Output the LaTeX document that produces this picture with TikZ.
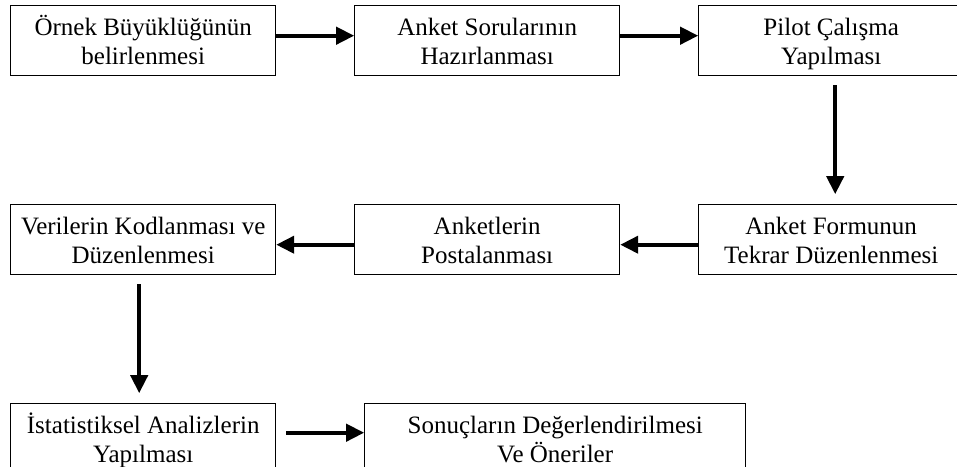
\documentclass[tikz,border=0pt]{standalone}
\usepackage{fontspec}
\setmainfont{Liberation Serif}
\usetikzlibrary{
  arrows.meta,
  chains,
  matrix,
  positioning,
  scopes
}

\begin{document}
\begin{tikzpicture}[
      phase/.style={
         rectangle,
         minimum width=265pt,
         minimum height=70pt,
         inner sep=2pt,
         line width=1pt,
         draw=black,
         align=center,
         font=\fontsize{25}{29}\selectfont,
         text height=52pt,
         text depth=5pt,
         %text height=1.5ex,
         %text depth=.25ex
      },
      tip/.style={
         line width=4pt,
         -{Triangle[length=18pt,width=17pt]}
      },
      shifted/.style={transform canvas={shift={#1}}},
      gap tip/.style={tip,shorten <=9pt,shorten >=10pt},
      left gap tip/.style={tip,shorten <=10pt},
    ]
    \useasboundingbox (0pt,0pt) rectangle (957pt,-466pt);
    \matrix[column sep=78pt, row sep=128pt, inner sep=0pt, anchor=north west] at (10pt,-5pt) {
\node (n11) [phase] {Örnek Büyüklüğünün\\belirlenmesi}; & \node (n12) [phase] {Anket Sorularının\\Hazırlanması}; & \node (n13) [phase] {Pilot Çalışma\\Yapılması};\\
\node (n21) [phase] {Verilerin Kodlanması ve\\Düzenlenmesi}; & \node (n22) [phase] {Anketlerin\\Postalanması}; & \node (n23) [phase] {Anket Formunun\\Tekrar Düzenlenmesi};\\
\node (n31) [phase] {İstatistiksel Analizlerin\\Yapılması}; &  & \\
    };
    \node (n32) [phase, minimum width=381pt, right=88pt of n31] {Sonuçların Değerlendirilmesi\\Ve Öneriler};
  { [start chain]
       \chainin (n11);
       \chainin (n12)    [join=by {tip,shifted={(0pt,5pt)}}];
       \chainin (n13)    [join=by {tip,shifted={(0pt,5pt)}}];
       \chainin (n23)    [join=by {gap tip,shifted={(4pt,0pt)}}];
       \chainin (n22)    [join=by {tip,shifted={(0pt,-5pt)}}];
       \chainin (n21)    [join=by {tip,shifted={(0pt,-5pt)}}];
       \chainin (n31)    [join=by {gap tip,shifted={(-4pt,0pt)}}];
       \chainin (n32)    [join=by {left gap tip,shifted={(0pt,6pt)}}];
  }
\end{tikzpicture}
\end{document}
